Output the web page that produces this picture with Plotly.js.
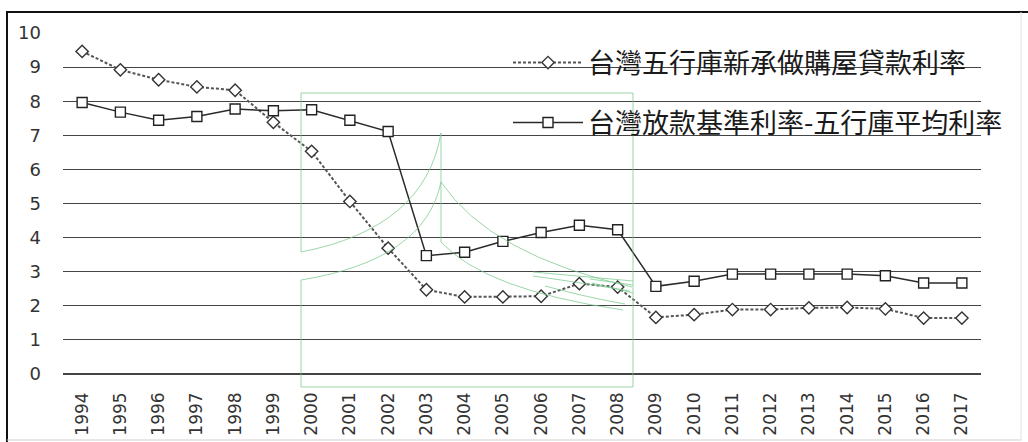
<!DOCTYPE html>
<html>
<head>
<meta charset="utf-8">
<script src="https://cdn.plot.ly/plotly-3.0.1.min.js"></script>
<style>
  html, body { margin: 0; padding: 0; background: #ffffff; }
  #chart { width: 1028px; height: 442px; }
</style>
</head>
<body>
<div id="chart"></div>
<script>
// Years on the category axis
const years = ['1994','1995','1996','1997','1998','1999','2000','2001','2002','2003','2004','2005',
               '2006','2007','2008','2009','2010','2011','2012','2013','2014','2015','2016','2017'];

// 台灣五行庫新承做購屋貸款利率 (%)
const mortgageRate = [9.46, 8.92, 8.63, 8.42, 8.32, 7.38, 6.53, 5.06, 3.69, 2.47, 2.26, 2.26,
                      2.28, 2.65, 2.55, 1.66, 1.74, 1.89, 1.89, 1.94, 1.95, 1.91, 1.64, 1.64];

// 台灣放款基準利率-五行庫平均利率 (%)
const baseRate = [7.96, 7.68, 7.44, 7.55, 7.77, 7.72, 7.75, 7.44, 7.11, 3.47, 3.57, 3.89,
                  4.15, 4.36, 4.23, 2.57, 2.72, 2.93, 2.93, 2.93, 2.93, 2.88, 2.67, 2.67];

const seriesNames = ['台灣五行庫新承做購屋貸款利率', '台灣放款基準利率-五行庫平均利率'];
const yTicks = [0, 1, 2, 3, 4, 5, 6, 7, 8, 9, 10];

// Plot-area geometry in page pixels
const W = 1028, H = 442;
const PL = 63, PR = 981, PT = 33, PB = 374;
const fx = X => (X - PL) / (PR - PL);
const fy = Y => (PB - Y) / (PB - PT);
const pt = (X, Y) => fx(X).toFixed(5) + ',' + fy(Y).toFixed(5);

// Thin green outline figure sitting over the middle of the plot
const green = 'rgba(120,200,140,0.75)';
const outlinePaths = [
  'M' + pt(301,252) + ' L' + pt(301,93) + ' L' + pt(633,93) + ' L' + pt(633,387) + ' L' + pt(301,387) + ' L' + pt(301,280),
  'M' + pt(301,252) + ' Q' + pt(425,228) + ' ' + pt(441,133),
  'M' + pt(441,133) + ' L' + pt(441,242),
  'M' + pt(301,280) + ' Q' + pt(425,260) + ' ' + pt(441,182),
  'M' + pt(441,182) + ' Q' + pt(490,255) + ' ' + pt(632,287),
  'M' + pt(441,242) + ' Q' + pt(485,290) + ' ' + pt(623,310),
  'M' + pt(533,272) + ' L' + pt(633,281),
  'M' + pt(533,276) + ' Q' + pt(590,284) + ' ' + pt(630,291),
  'M' + pt(545,286) + ' Q' + pt(590,298) + ' ' + pt(625,304),
  'M' + pt(590,279) + ' L' + pt(633,285),
  'M' + pt(592,283) + ' L' + pt(633,293)
];

const shapes = outlinePaths.map(d => ({
  type: 'path', xref: 'paper', yref: 'paper', path: d,
  line: { color: green, width: 1 }, layer: 'above'
}));

// Frame around the chart
shapes.push(
  { type: 'line', xref: 'paper', yref: 'paper', x0: fx(6), x1: fx(W), y0: fy(12), y1: fy(12),
    line: { color: '#111', width: 2 } },
  { type: 'line', xref: 'paper', yref: 'paper', x0: fx(7), x1: fx(7), y0: fy(11), y1: fy(H),
    line: { color: '#111', width: 2 } },
  { type: 'line', xref: 'paper', yref: 'paper', x0: fx(7), x1: fx(1021), y0: fy(440), y1: fy(440),
    line: { color: '#cfcfcf', width: 1 } },
  { type: 'line', xref: 'paper', yref: 'paper', x0: fx(1021), x1: fx(1021), y0: fy(12), y1: fy(440),
    line: { color: '#e2e2e2', width: 1 } }
);

const traces = [
  {
    x: years, y: mortgageRate, name: seriesNames[0], type: 'scatter', mode: 'lines+markers',
    line: { color: '#555', width: 2, dash: '3px,2px' },
    marker: { symbol: 'diamond', size: 9.5, color: '#fff', line: { color: '#333', width: 1.4 } },
    legend: 'legend'
  },
  {
    x: years, y: baseRate, name: seriesNames[1], type: 'scatter', mode: 'lines+markers',
    line: { color: '#2a2a2a', width: 1.5 },
    marker: { symbol: 'square', size: 10, color: '#fff', line: { color: '#222', width: 1.4 } },
    legend: 'legend2'
  }
];

const legendFont = { family: '"Noto Sans CJK TC", "Noto Sans CJK SC", sans-serif', size: 27, color: '#1a1a1a' };

const layout = {
  width: W, height: H,
  margin: { l: PL, r: W - PR, t: PT, b: H - PB, pad: 0 },
  paper_bgcolor: '#ffffff', plot_bgcolor: '#ffffff',
  font: { family: '"DejaVu Sans", sans-serif', size: 17, color: '#333' },
  showlegend: true,
  legend: {
    x: fx(508), y: fy(63), xanchor: 'left', yanchor: 'middle',
    bgcolor: 'rgba(0,0,0,0)', borderwidth: 0, font: legendFont, itemwidth: 70
  },
  legend2: {
    x: fx(508), y: fy(123), xanchor: 'left', yanchor: 'middle',
    bgcolor: 'rgba(0,0,0,0)', borderwidth: 0, font: legendFont, itemwidth: 70
  },
  xaxis: {
    type: 'category', range: [-0.5, years.length - 0.5],
    showgrid: false, zeroline: false, showline: false, ticks: '',
    tickangle: -90, ticklabelstandoff: 14,
    tickfont: { family: '"DejaVu Sans", sans-serif', size: 17, color: '#333' }
  },
  yaxis: {
    range: [0, 10], tickvals: yTicks, ticktext: yTicks.map(String),
    showgrid: true, gridcolor: '#444', gridwidth: 1.2,
    zeroline: true, zerolinecolor: '#444', zerolinewidth: 1.2,
    showline: false, ticks: '', ticklabelstandoff: 21,
    tickfont: { family: '"DejaVu Sans", sans-serif', size: 18, color: '#333' }
  },
  shapes: shapes
};

Plotly.newPlot('chart', traces, layout, { displayModeBar: false, staticPlot: true });
</script>
</body>
</html>
